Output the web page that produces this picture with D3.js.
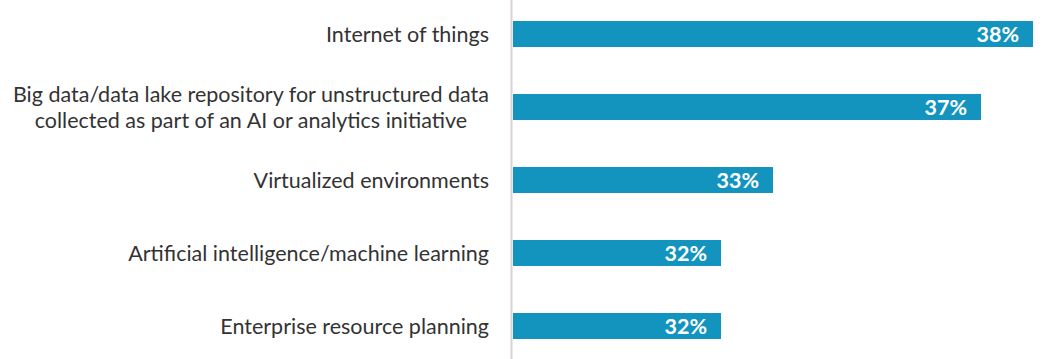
<!DOCTYPE html>
<html>
<head>
<meta charset="utf-8">
<script src="https://cdn.jsdelivr.net/npm/d3@7"></script>
<style>
  body { margin: 0; background: #fff; }
  svg text { font-family: Lato, "Open Sans", sans-serif; }
</style>
</head>
<body>
<div id="chart"></div>
<script>
// data
var categories = [
  ["Internet of things"],
  ["Big data/data lake repository for unstructured data", "collected as part of an AI or analytics initiative"],
  ["Virtualized environments"],
  ["Artificial intelligence/machine learning"],
  ["Enterprise resource planning"]
];
var values = [38, 37, 33, 32, 32];
var valueLabels = ["38%", "37%", "33%", "32%", "32%"];

var width = 1054, height = 359;
var barColor = "#1294be";

var svg = d3.select("#chart").append("svg")
  .attr("width", width)
  .attr("height", height);

var x = d3.scaleLinear().domain([28, 38]).range([513, 1033]);
var y = d3.scaleBand()
  .domain(d3.range(values.length))
  .range([-2.5, 362.5])
  .paddingInner(47 / 73)
  .paddingOuter(23.5 / 73);

// axis line
svg.append("line")
  .attr("x1", 511.5).attr("x2", 511.5)
  .attr("y1", 0).attr("y2", height)
  .attr("stroke", "#d9d2d5")
  .attr("stroke-width", 2);

var rows = svg.selectAll("g.row")
  .data(values)
  .enter().append("g")
  .attr("class", "row");

rows.append("rect")
  .attr("x", x(28))
  .attr("y", function(d, i) { return y(i); })
  .attr("width", function(d) { return x(d) - x(28); })
  .attr("height", y.bandwidth())
  .attr("fill", barColor);

rows.append("text")
  .attr("x", function(d) { return x(d) - 14; })
  .attr("y", function(d, i) { return y(i) + y.bandwidth() / 2; })
  .attr("dy", "0.37em")
  .attr("text-anchor", "end")
  .attr("fill", "#fff")
  .attr("font-weight", "bold")
  .attr("font-size", "21.5px")
  .text(function(d, i) { return valueLabels[i]; });

// category labels, multi-line ones centred inside a right-aligned block
rows.each(function(d, i) {
  var g = d3.select(this);
  var lines = categories[i];
  var cy = y(i) + y.bandwidth() / 2;
  var lh = 26;
  var t = g.append("text")
    .attr("font-size", "21.5px")
    .attr("fill", "#333");
  lines.forEach(function(l, k) {
    t.append("tspan")
      .attr("y", cy + (k - (lines.length - 1) / 2) * lh)
      .attr("dy", "0.36em")
      .text(l);
  });
  var widths = [];
  t.selectAll("tspan").each(function() { widths.push(this.getComputedTextLength()); });
  var maxW = d3.max(widths);
  var right = 489;
  t.selectAll("tspan")
    .attr("text-anchor", "middle")
    .attr("x", right - maxW / 2);
});
</script>
</body>
</html>
